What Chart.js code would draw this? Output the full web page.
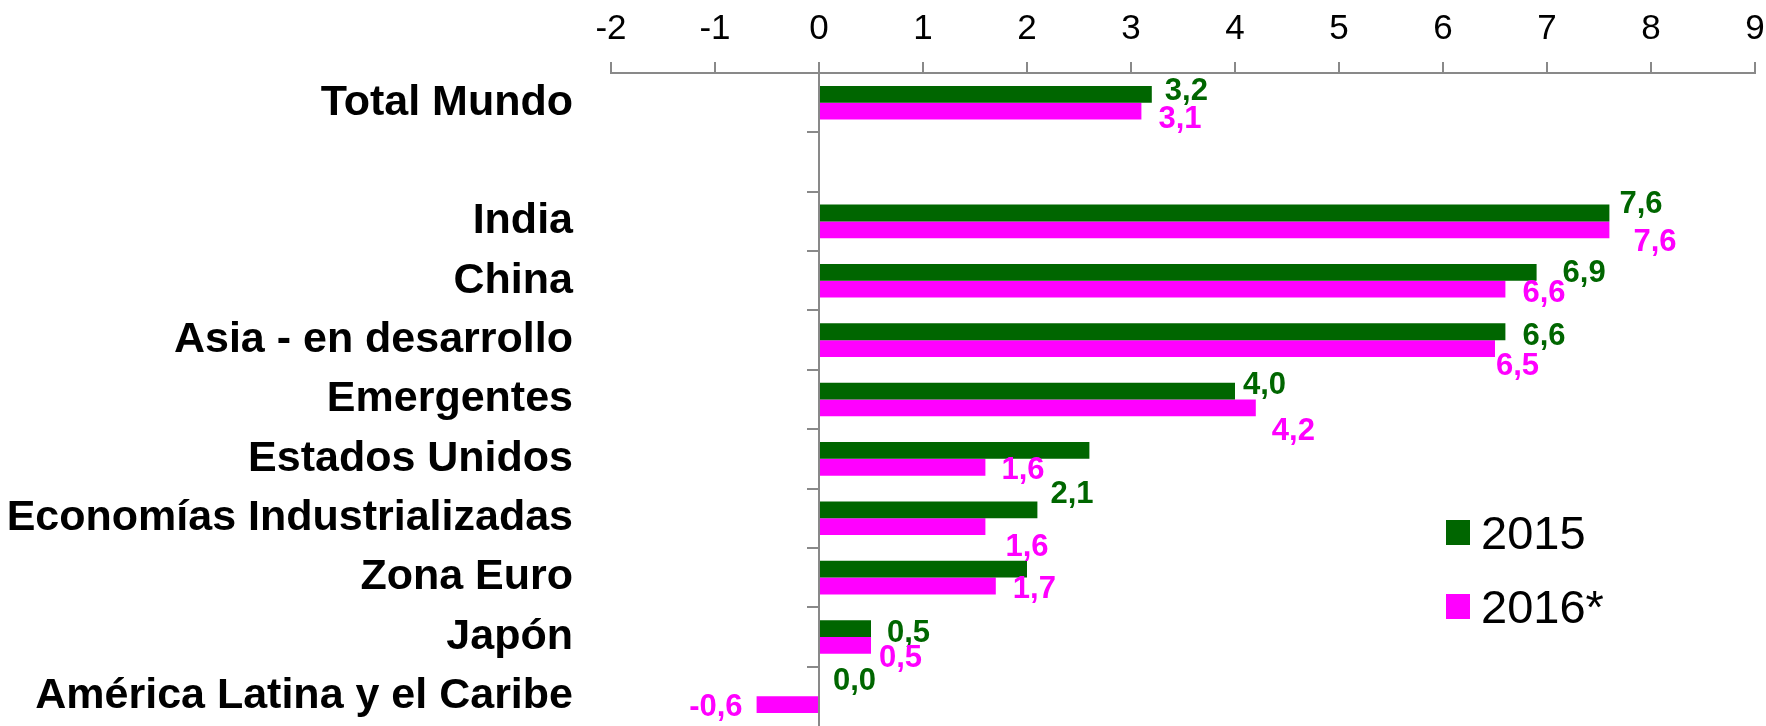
<!DOCTYPE html>
<html>
<head>
<meta charset="utf-8">
<script src="https://cdn.jsdelivr.net/npm/chart.js@4.4.0/dist/chart.umd.min.js"></script>
<style>
    html, body { margin: 0; padding: 0; background: #fff; }
    #wrap { width: 1766px; height: 726px; }
</style>
</head>
<body>
<div id="wrap"><canvas id="growthChart" width="1766" height="726"></canvas></div>
<script>
const categories = ['Total Mundo', '', 'India', 'China', 'Asia - en desarrollo', 'Emergentes',
    'Estados Unidos', 'Economías Industrializadas', 'Zona Euro', 'Japón', 'América Latina y el Caribe'];
const values2015 = [3.2, null, 7.6, 6.9, 6.6, 4.0, 2.6, 2.1, 2.0, 0.5, 0.0];
const values2016 = [3.1, null, 7.6, 6.6, 6.5, 4.2, 1.6, 1.6, 1.7, 0.5, -0.6];
const seriesNames = ['2015', '2016*'];
const xTickMin = -2;
const xTickMax = 9;

// 2015 values that are left without a label
const unlabeled2015 = ['Estados Unidos', 'Zona Euro'];

// small hand offsets [dx, dy] so the value labels don't collide
const nudges2015 = [[-1, -5], null, [-4, -11], [12, -1], [3, 2], [-6, -8], null, [-1, -18], null, [2, 2], [0, -9]];
const nudges2016 = [[3, 6], null, [10, 10], [3, 2], [-13, 15], [2, 21], [2, 1], [6, 18], [3, 1], [-6, 11], [0, 0]];

const FONT = "'Liberation Sans', Arial, sans-serif";
const AXIS_GRAY = '#898989';
const GREEN = '#006600';
const MAGENTA = '#ff00ff';

Chart.defaults.font.family = FONT;
Chart.defaults.color = '#000';

function formatValue(v) {
    return v.toFixed(1).replace('.', ',');
}

// value labels next to the end of each bar
const valueLabels = {
    id: 'valueLabels',
    afterDatasetsDraw(chart) {
        const ctx = chart.ctx;
        const size = 31;
        ctx.save();
        ctx.font = 'bold ' + size + 'px ' + FONT;
        ctx.textBaseline = 'alphabetic';
        chart.data.datasets.forEach((ds, di) => {
            const meta = chart.getDatasetMeta(di);
            meta.data.forEach((bar, i) => {
                const v = ds.data[i];
                if (v === null || v === undefined) return;
                if (ds.hiddenLabels.includes(categories[i])) return;
                const nudge = ds.nudges[i] || [0, 0];
                const y = bar.y + nudge[1] + size * 0.358;
                ctx.fillStyle = ds.backgroundColor;
                if (v < 0) {
                    ctx.textAlign = 'right';
                    ctx.fillText(formatValue(v), bar.x - 14 - nudge[0], y);
                } else {
                    ctx.textAlign = 'left';
                    ctx.fillText(formatValue(v), bar.x + 14 + nudge[0], y);
                }
            });
        });
        ctx.restore();
    }
};

// short tick marks on the zero line between categories
const zeroAxisTicks = {
    id: 'zeroAxisTicks',
    afterDatasetsDraw(chart) {
        const ctx = chart.ctx;
        const x0 = chart.scales.x.getPixelForValue(0);
        const yScale = chart.scales.y;
        ctx.save();
        ctx.strokeStyle = AXIS_GRAY;
        ctx.lineWidth = 2;
        ctx.beginPath();
        for (let i = 0; i < categories.length - 1; i++) {
            const yy = Math.round((yScale.getPixelForValue(i) + yScale.getPixelForValue(i + 1)) / 2);
            ctx.moveTo(x0 - 12, yy);
            ctx.lineTo(x0, yy);
        }
        ctx.stroke();
        ctx.restore();
    }
};

// legend drawn inside the plot, lower right
const insideLegend = {
    id: 'insideLegend',
    afterDraw(chart, args, opts) {
        const ctx = chart.ctx;
        const area = chart.chartArea;
        const left = area.right - opts.right;
        ctx.save();
        ctx.font = opts.fontSize + 'px ' + FONT;
        ctx.textBaseline = 'alphabetic';
        ctx.textAlign = 'left';
        chart.data.datasets.forEach((ds, i) => {
            const cy = area.bottom - opts.bottom + i * opts.rowGap;
            ctx.fillStyle = ds.backgroundColor;
            ctx.fillRect(left, cy - 12, 24, 25);
            ctx.fillStyle = '#000';
            ctx.fillText(ds.label, left + 35, cy + opts.fontSize * 0.358);
        });
        ctx.restore();
    }
};

const ctx = document.getElementById('growthChart').getContext('2d');
new Chart(ctx, {
    type: 'bar',
    data: {
        labels: categories,
        datasets: [{
            label: seriesNames[0],
            data: values2015,
            backgroundColor: GREEN,
            hiddenLabels: unlabeled2015,
            nudges: nudges2015
        }, {
            label: seriesNames[1],
            data: values2016,
            backgroundColor: MAGENTA,
            hiddenLabels: [],
            nudges: nudges2016
        }]
    },
    options: {
        indexAxis: 'y',
        responsive: false,
        animation: false,
        devicePixelRatio: 1,
        categoryPercentage: 0.566,
        barPercentage: 1,
        borderWidth: 0,
        layout: { padding: { left: 0, right: 11, top: 0, bottom: 0 } },
        plugins: {
            legend: { display: false },
            tooltip: { enabled: false },
            insideLegend: { right: 309, bottom: 194, rowGap: 74, fontSize: 47 }
        },
        scales: {
            x: {
                type: 'linear',
                position: 'top',
                min: xTickMin,
                max: xTickMax,
                ticks: {
                    stepSize: 1,
                    color: '#000',
                    font: { size: 35 },
                    padding: 12,
                    callback: v => String(v)
                },
                grid: {
                    color: c => (c.tick && c.tick.value === 0) ? AXIS_GRAY : 'rgba(0,0,0,0)',
                    lineWidth: 2,
                    tickColor: AXIS_GRAY,
                    tickLength: 11
                },
                border: { color: AXIS_GRAY, width: 2 },
                afterFit(s) {
                    s.height = 73;
                    s.paddingLeft = 0;
                    s.paddingRight = 0;
                }
            },
            y: {
                type: 'category',
                ticks: {
                    color: '#000',
                    font: { size: 43, weight: 'bold' },
                    padding: 38,
                    autoSkip: false
                },
                grid: { display: false, drawTicks: false },
                border: { display: false },
                afterFit(s) {
                    s.width = 611;
                    s.paddingTop = 0;
                    s.paddingBottom = 0;
                }
            }
        }
    },
    plugins: [zeroAxisTicks, valueLabels, insideLegend]
});
</script>
</body>
</html>
